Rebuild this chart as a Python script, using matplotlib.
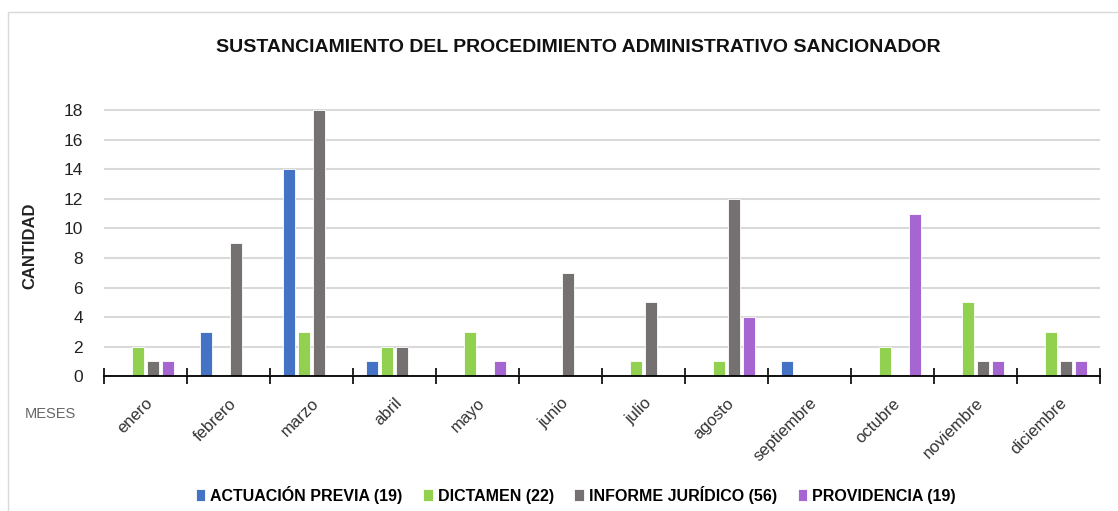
import matplotlib
matplotlib.use("Agg")
import matplotlib.pyplot as plt
import numpy as np
from matplotlib.patches import Rectangle

plt.rcParams['font.family'] = ['Liberation Sans Narrow', 'Liberation Sans', 'DejaVu Sans']

meses = ["enero", "febrero", "marzo", "abril", "mayo", "junio", "julio",
         "agosto", "septiembre", "octubre", "noviembre", "diciembre"]
actuacion_previa = [0, 3, 14, 1, 0, 0, 0, 0, 1, 0, 0, 0]
dictamen = [2, 0, 3, 2, 3, 0, 1, 1, 0, 2, 5, 3]
informe_juridico = [1, 9, 18, 2, 0, 7, 5, 12, 0, 0, 1, 1]
providencia = [1, 0, 0, 0, 1, 0, 0, 4, 0, 11, 1, 1]
series_labels = ["ACTUACIÓN PREVIA (19)", "DICTAMEN (22)",
                 "INFORME JURÍDICO (56)", "PROVIDENCIA (19)"]
colors = ["#4472C4", "#92D050", "#767171", "#A566D1"]
yticks = [0, 2, 4, 6, 8, 10, 12, 14, 16, 18]

fig = plt.figure(figsize=(11.18, 5.11), dpi=100)
ax = fig.add_axes([0.093, 0.264, 0.891, 0.523])

x = np.arange(len(meses))
series = [actuacion_previa, dictamen, informe_juridico, providencia]
bw = 0.14
step = 0.18
for i, (vals, lab, c) in enumerate(zip(series, series_labels, colors)):
    ax.bar(x + (i - 1.5) * step, vals, width=bw, color=c, label=lab,
           edgecolor="white", linewidth=0.6, zorder=3)

ax.set_xlim(-0.5, len(meses) - 0.5)
ax.set_ylim(0, 18.1)
ax.set_yticks(yticks)
ax.set_yticklabels([str(v) for v in yticks], fontsize=12.5, color="#222222")
ax.yaxis.grid(True, color="#D9D9D9", linewidth=1.5, zorder=0)
ax.tick_params(axis='y', length=0, pad=15)

ax.set_xticks(x)
ax.set_xticklabels(meses, rotation=45, ha="right", rotation_mode="anchor",
                   fontsize=12, color="#333333")
ax.tick_params(axis='x', length=0, pad=14)
ax.set_xticks(np.arange(-0.5, len(meses), 1), minor=True)
ax.tick_params(axis='x', which='minor', length=12, direction='inout',
               width=1.2, color='black')

for s in ["top", "right", "left"]:
    ax.spines[s].set_visible(False)
ax.spines["bottom"].set_color("black")
ax.spines["bottom"].set_linewidth(1.3)
ax.spines["bottom"].set_zorder(4)

fig.text(0.517, 0.908, "SUSTANCIAMIENTO DEL PROCEDIMIENTO ADMINISTRATIVO SANCIONADOR",
         ha="center", va="center", fontsize=14, fontweight="bold", color="#111111")
fig.text(0.027, 0.52, "CANTIDAD", rotation=90, ha="center", va="center",
         fontsize=12, fontweight="bold", color="#222222")
fig.text(0.045, 0.19, "MESES", ha="center", va="center", fontsize=10.5, color="#666666")

leg = fig.legend(loc="center", bbox_to_anchor=(0.515, 0.032), ncol=4, frameon=False,
                 handlelength=0.6, handleheight=0.7, handletextpad=0.3,
                 columnspacing=1.3, prop={'weight': 'bold', 'size': 11.5})

# light outer frame (spreadsheet border)
fig.add_artist(Rectangle((0.007, -0.01), 1.0, 0.987, transform=fig.transFigure,
                         fill=False, edgecolor="#D9D9D9", linewidth=1.0))

fig.savefig("out.png", dpi=100)
